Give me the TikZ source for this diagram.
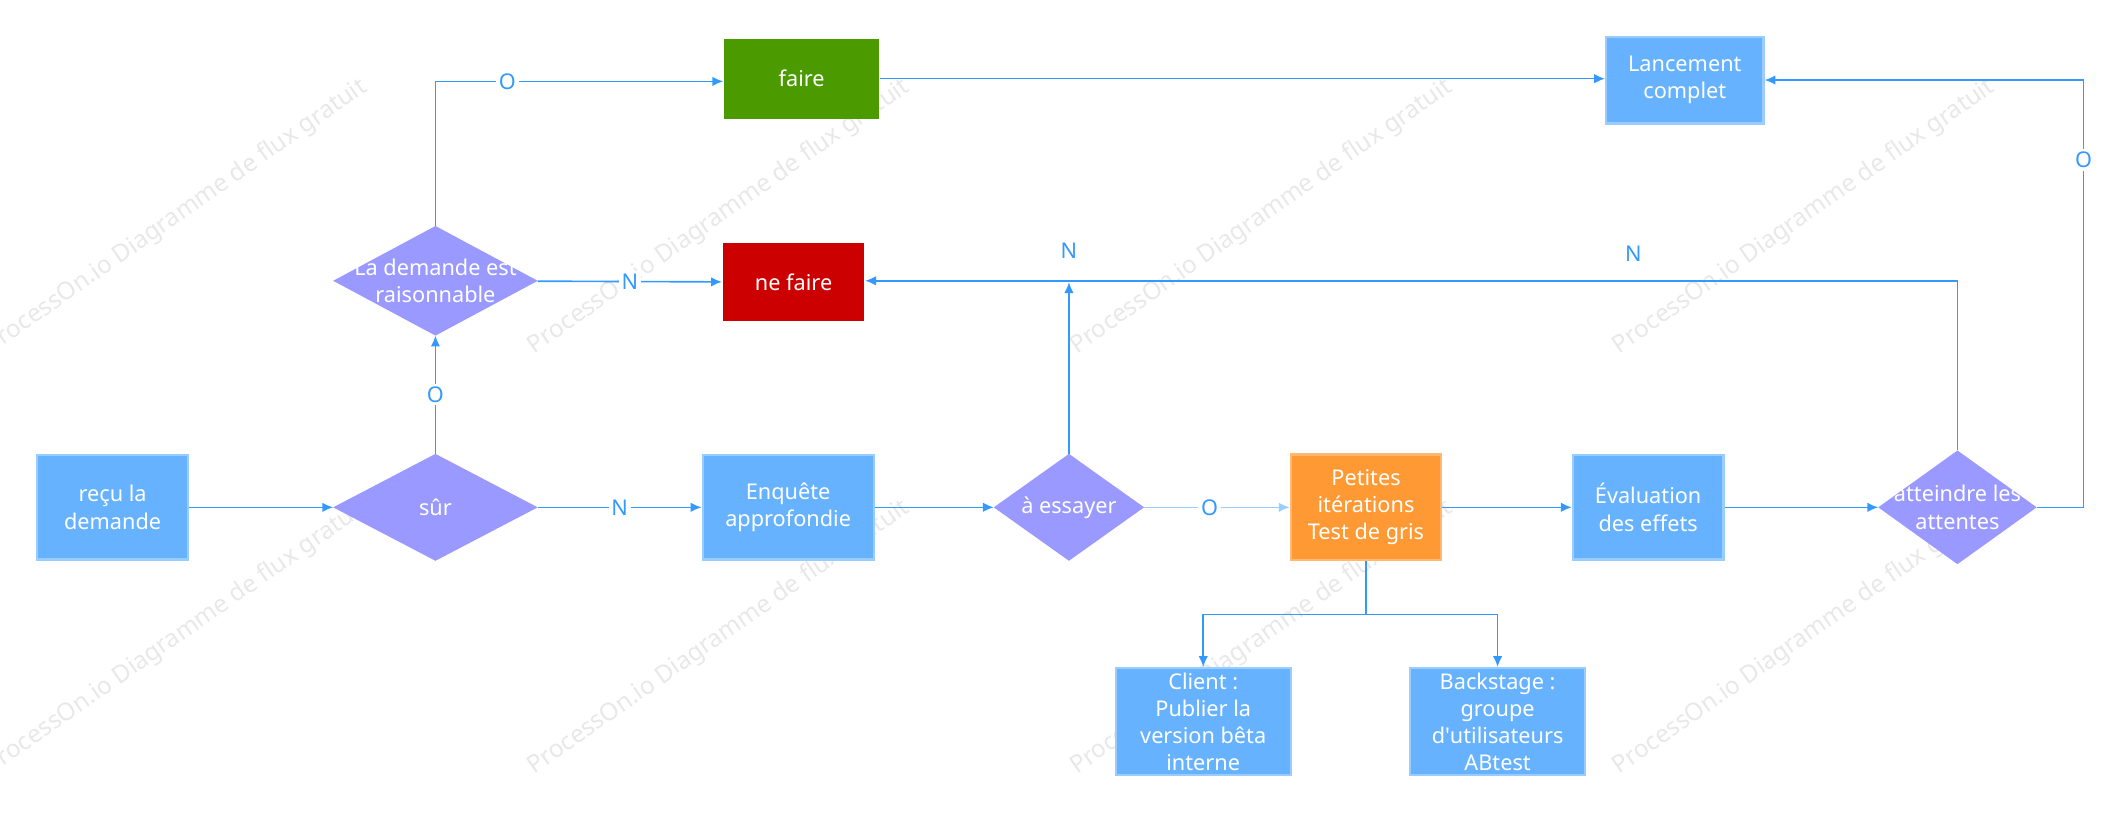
\documentclass[tikz,border=0pt]{standalone}
\usepackage{fontspec}
\setmainfont{Noto Sans}
\usetikzlibrary{shapes.geometric,arrows.meta}
\definecolor{ln}{HTML}{3399FF}
\definecolor{bx}{HTML}{66B2FF}
\definecolor{bxb}{HTML}{99CCFF}
\definecolor{dm}{HTML}{9999FF}
\definecolor{gr}{HTML}{4A9A00}
\definecolor{rd}{HTML}{CC0000}
\definecolor{og}{HTML}{FF9933}
\begin{document}
\begin{tikzpicture}[x=0.5pt,y=-0.5pt,
 every node/.style={font=\fontsize{8}{10}\selectfont},
 box/.style={draw=bxb,line width=0.8pt,fill=bx,text=white,minimum width=55.5pt,minimum height=38.5pt,align=center,inner sep=1pt},
 dia/.style={rectangle,inner sep=0pt},
 dtext/.style={text=white,align=center,inner sep=0pt},
 con/.style={draw=ln,line width=0.6pt,-{Latex[length=4pt,width=3.5pt]}},
 lab/.style={fill=white,text=ln,inner sep=1pt,font=\fontsize{8}{10}\selectfont},
 wm/.style={text=black!9,rotate=35,font=\fontsize{9}{11}\selectfont}]
\useasboundingbox (0,0) rectangle (1568,599.3);
\foreach \x in {60,460,860,1260}{\node[wm] at (\x+70,160) {ProcessOn.io Diagramme de flux gratuit};
\node[wm] at (\x+70,470) {ProcessOn.io Diagramme de flux gratuit};}
\node[box] (recu) at (83,374) {reçu la\\demande};
\node[dia,minimum width=75pt,minimum height=39pt] (sur) at (321,374) {};
\node[dia,minimum width=75pt,minimum height=40pt] (rais) at (321,207) {};
\node[dia,minimum width=55pt,minimum height=39pt] (ess) at (788,374) {};
\node[dia,minimum width=58pt,minimum height=41.5pt] (att) at (1443,374) {};
\foreach \d in {sur,rais,ess,att}{\fill[dm] (\d.north) -- (\d.east) -- (\d.south) -- (\d.west) -- cycle;}
\node[dtext] at (sur) {sûr};
\node[dtext] at (rais) {La demande est\\raisonnable};
\node[dtext] at (ess) {à essayer};
\node[dtext] at (att) {atteindre les\\attentes};
\node[box,draw=none,fill=gr,minimum width=57pt,minimum height=29.5pt] (faire) at (591,58) {faire};
\node[box,draw=none,fill=rd,minimum width=52pt,minimum height=28.5pt] (ne) at (585,208) {ne faire};
\node[box,minimum width=58pt,minimum height=32pt] (lanc) at (1242,59) {Lancement\\complet};
\node[box,minimum width=63pt] (enq) at (581,374) {Enquête\\approfondie};
\node[box,fill=og,draw=og!70!white,minimum width=55.5pt,minimum height=39pt] (pet) at (1007,374) {Petites\\itérations\\Test de gris};
\node[box] (eval) at (1215,374) {Évaluation\\des effets};
\node[box,minimum width=64.5pt,minimum height=39.5pt] (cli) at (887,532) {Client :\\Publier la\\version bêta\\interne};
\node[box,minimum width=64.5pt,minimum height=39.5pt] (back) at (1104,532) {Backstage :\\groupe\\d\textquotesingle utilisateurs\\ABtest};
\coordinate (essN) at (788,208);
\draw[con] (recu) -- (sur);
\draw[con] (sur) -- node[lab]{N} (enq);
\draw[con] (sur) -- node[lab]{O} (rais);
\draw[con] (rais) -- node[lab,pos=0.5]{N} (ne);
\draw[con] (rais.north) -- (321,60) -- (faire.west |- 0,60);
\node[lab] at (374,60) {O};
\draw[con] (faire) -- (lanc.west |- faire);
\draw[con] (enq) -- (ess);
\draw[con] (ess.north) -- (essN);
\node[text=ln] at (788,185) {N};
\draw[con,draw=ln!50] (ess) -- node[lab,pos=0.45]{O} (pet);
\draw[con] (pet) -- (eval);
\draw[con] (eval) -- (att);
\draw[con] (att.north) -- (1443,207) -- (ne.east |- 0,207);
\node[text=ln] at (1204,187) {N};
\draw[con] (att.east) -- (1536,374) -- (1536,59) -- (lanc.east);
\node[lab] at (1536,118) {O};
\draw[draw=ln,line width=0.6pt] (pet.south) -- (1007,453) coordinate (split);
\draw[con] (split) -| (cli.north);
\draw[con] (split) -| (back.north);
\end{tikzpicture}
\end{document}
